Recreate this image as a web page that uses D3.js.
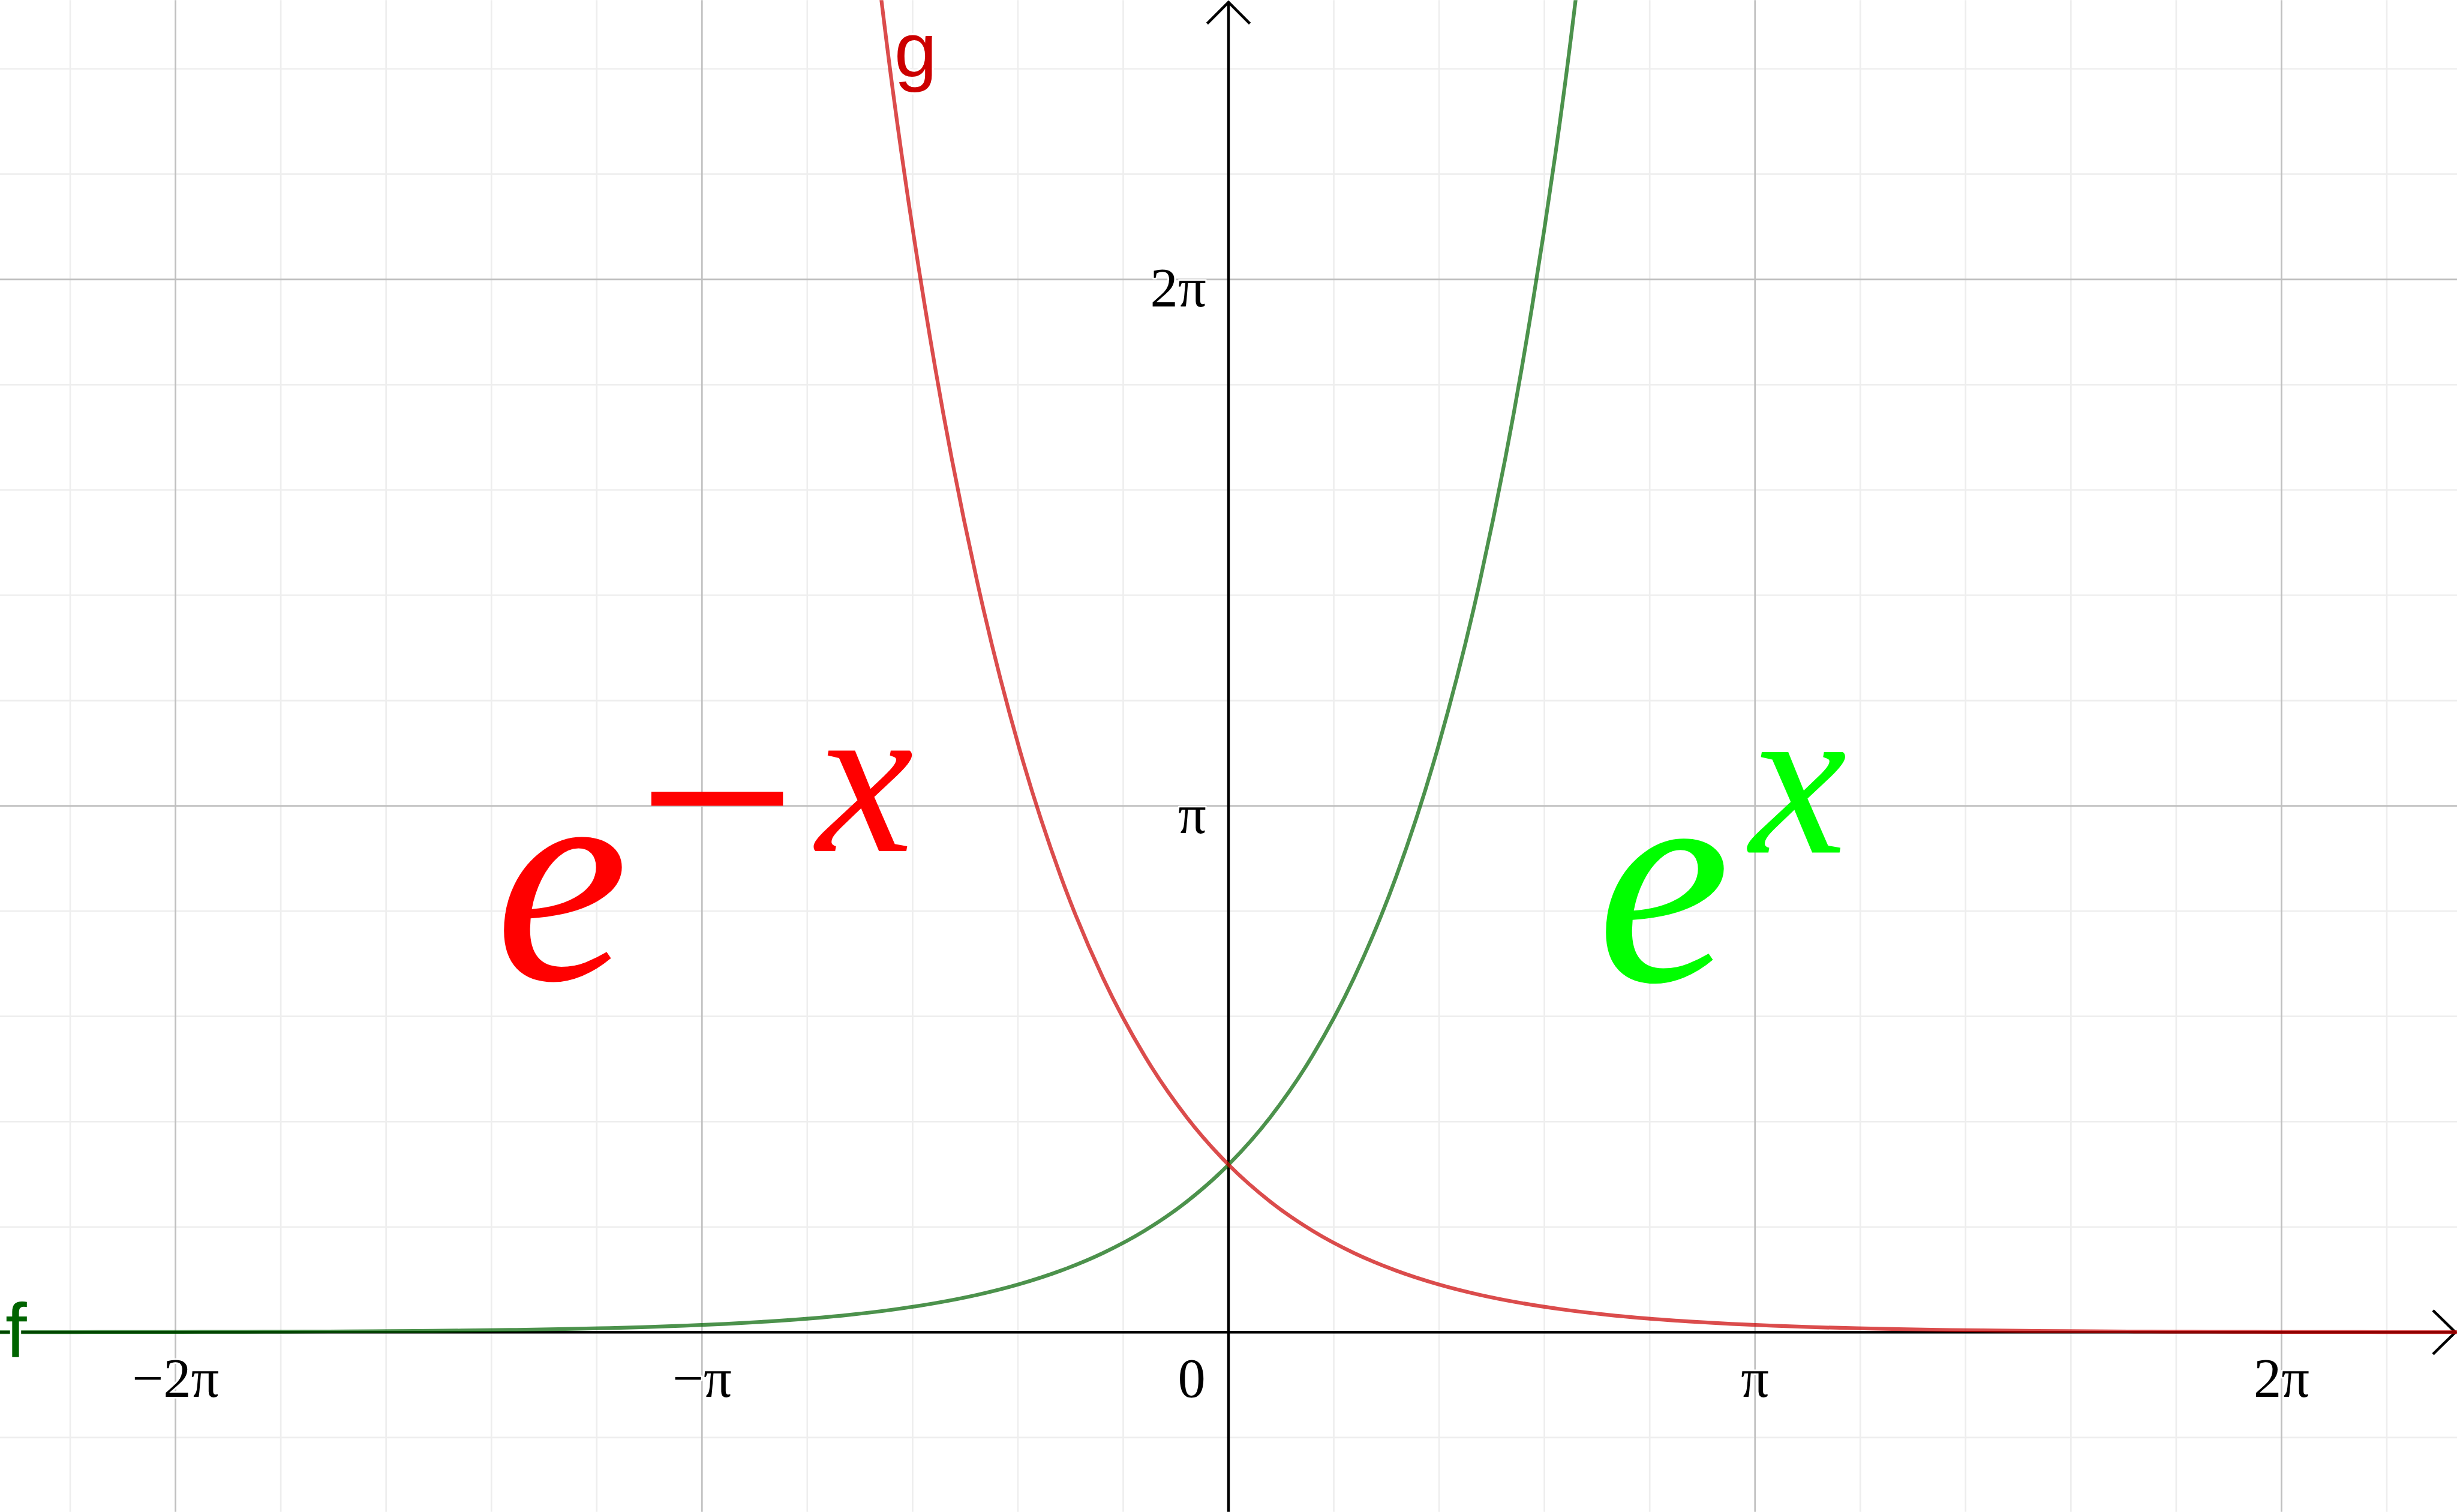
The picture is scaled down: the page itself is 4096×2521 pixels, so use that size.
<!DOCTYPE html>
<html>
<head>
<meta charset="utf-8">
<script src="https://cdn.jsdelivr.net/npm/d3@7"></script>
<style>
  html, body { margin: 0; padding: 0; background: #ffffff; overflow: hidden; }
  svg { display: block; }
</style>
</head>
<body>
<svg id="chart"></svg>
<script>
// ---------- data ----------
const fX = [-7.5,-7.25,-7,-6.75,-6.5,-6.25,-6,-5.75,-5.5,-5.25,-5,-4.75,-4.5,-4.25,-4,-3.75,-3.5,-3.25,-3,-2.75,-2.5,-2.25,-2,-1.75,-1.5,-1.25,-1,-0.75,-0.5,-0.25,0,0.25,0.5,0.75,1,1.25,1.5,1.75,2,2.25];
const fY = [0.00055,0.00071,0.00091,0.00117,0.0015,0.00193,0.00248,0.00318,0.00409,0.00525,0.00674,0.00865,0.0111,0.01426,0.01832,0.02352,0.0302,0.03877,0.04979,0.06393,0.08208,0.1054,0.1353,0.1738,0.2231,0.2865,0.3679,0.4724,0.6065,0.7788,1,1.284,1.6487,2.117,2.7183,3.4903,4.4817,5.7546,7.3891,9.4877];
const gX = [-2.25,-2,-1.75,-1.5,-1.25,-1,-0.75,-0.5,-0.25,0,0.25,0.5,0.75,1,1.25,1.5,1.75,2,2.25,2.5,2.75,3,3.25,3.5,3.75,4,4.25,4.5,4.75,5,5.25,5.5,5.75,6,6.25,6.5,6.75,7,7.25,7.5];
const gY = [9.4877,7.3891,5.7546,4.4817,3.4903,2.7183,2.117,1.6487,1.284,1,0.7788,0.6065,0.4724,0.3679,0.2865,0.2231,0.1738,0.1353,0.1054,0.08208,0.06393,0.04979,0.03877,0.0302,0.02352,0.01832,0.01426,0.0111,0.00865,0.00674,0.00525,0.00409,0.00318,0.00248,0.00193,0.0015,0.00117,0.00091,0.00071,0.00055];

const xTickValues = [-2 * Math.PI, -Math.PI, Math.PI, 2 * Math.PI];
const xTickLabels = ["\u22122\u03c0", "\u2212\u03c0", "\u03c0", "2\u03c0"];
const yTickValues = [Math.PI, 2 * Math.PI];
const yTickLabels = ["\u03c0", "2\u03c0"];
const originLabel = "0";
const seriesNames = ["f", "g"];
const bigLabelRed = ["e", "\u2212", "x"];
const bigLabelGreen = ["e", "x"];

// ---------- layout (reference units, scaled by viewBox) ----------
const W = 4602, H = 2832;
const svg = d3.select("#chart")
  .attr("width", 4096).attr("height", 2521)
  .attr("viewBox", `0 0 ${W} ${H}`);

const unit = 313.9, ox = 2301, oy = 2495.5;
const x = d3.scaleLinear().domain([-ox / unit, (W - ox) / unit]).range([0, W]);
const y = d3.scaleLinear().domain([-(H - oy) / unit, oy / unit]).range([H, 0]);

svg.append("rect").attr("width", W).attr("height", H).attr("fill", "#fff");
svg.append("defs").append("clipPath").attr("id", "clip")
  .append("rect").attr("width", W).attr("height", H);

// ---------- grid ----------
const step = Math.PI / 5;
const gx = d3.range(Math.ceil(x.domain()[0] / step), Math.floor(x.domain()[1] / step) + 1);
const gy = d3.range(Math.ceil(y.domain()[0] / step), Math.floor(y.domain()[1] / step) + 1);
const grid = svg.append("g");
grid.selectAll("line.minx").data(gx.filter(k => k % 5 !== 0)).join("line")
  .attr("x1", k => x(k * step)).attr("x2", k => x(k * step))
  .attr("y1", 0).attr("y2", H).attr("stroke", "#eeeeee").attr("stroke-width", 3);
grid.selectAll("line.miny").data(gy.filter(k => k % 5 !== 0)).join("line")
  .attr("y1", k => y(k * step)).attr("y2", k => y(k * step))
  .attr("x1", 0).attr("x2", W).attr("stroke", "#eeeeee").attr("stroke-width", 3);
grid.selectAll("line.majx").data(gx.filter(k => k % 5 === 0 && k !== 0)).join("line")
  .attr("x1", k => x(k * step)).attr("x2", k => x(k * step))
  .attr("y1", 0).attr("y2", H).attr("stroke", "#c0c0c0").attr("stroke-width", 3);
grid.selectAll("line.majy").data(gy.filter(k => k % 5 === 0 && k !== 0)).join("line")
  .attr("y1", k => y(k * step)).attr("y2", k => y(k * step))
  .attr("x1", 0).attr("x2", W).attr("stroke", "#c0c0c0").attr("stroke-width", 3);

// ---------- axes ----------
const ax = svg.append("g").attr("stroke", "#000").attr("stroke-width", 5).attr("fill", "none");
const tipX = W - 3, tipY = 4;
ax.append("line").attr("x1", 0).attr("x2", tipX).attr("y1", y(0)).attr("y2", y(0));
ax.append("line").attr("x1", x(0)).attr("x2", x(0)).attr("y1", H).attr("y2", tipY);
ax.append("path").attr("d", `M${tipX - 42},${y(0) - 41}L${tipX},${y(0)}L${tipX - 42},${y(0) + 41}`);
ax.append("path").attr("d", `M${x(0) - 40},${tipY + 40}L${x(0)},${tipY}L${x(0) + 40},${tipY + 40}`);

// ---------- tick labels ----------
const labelStyle = sel => sel
  .attr("font-family", "'Liberation Serif', 'Times New Roman', serif")
  .attr("font-size", 104).attr("fill", "#000")
  .attr("stroke", "#fff").attr("stroke-width", 6).attr("paint-order", "stroke")
  .attr("stroke-linejoin", "round");
svg.append("g").selectAll("text").data(xTickValues).join("text")
  .call(labelStyle)
  .attr("x", d => x(d)).attr("y", y(0) + 121)
  .attr("text-anchor", "middle")
  .text((d, i) => xTickLabels[i]);
svg.append("g").selectAll("text").data(yTickValues).join("text")
  .call(labelStyle)
  .attr("x", x(0) - 42).attr("y", d => y(d) + 51)
  .attr("text-anchor", "end")
  .text((d, i) => yTickLabels[i]);
svg.append("text").call(labelStyle)
  .attr("x", x(0) - 43).attr("y", y(0) + 121)
  .attr("text-anchor", "end").text(originLabel);

// ---------- curves ----------
const line = d3.line().x(d => x(d[0])).y(d => y(d[1])).curve(d3.curveMonotoneX);
const curves = svg.append("g").attr("clip-path", "url(#clip)");
curves.append("path").datum(fX.map((v, i) => [v, fY[i]]))
  .attr("d", line).attr("fill", "none")
  .attr("stroke", "#006400").attr("stroke-opacity", 0.7).attr("stroke-width", 7);
curves.append("path").datum(gX.map((v, i) => [v, gY[i]]))
  .attr("d", line).attr("fill", "none")
  .attr("stroke", "#cc0000").attr("stroke-opacity", 0.7).attr("stroke-width", 7);

// ---------- series labels ----------
const nameStyle = sel => sel
  .attr("font-family", "'Liberation Sans', Arial, sans-serif")
  .attr("font-size", 144)
  .attr("stroke", "#fff").attr("stroke-width", 8).attr("paint-order", "stroke");
svg.append("text").call(nameStyle).attr("fill", "#006400")
  .attr("x", 10).attr("y", 2542).text(seriesNames[0]);
svg.append("text").call(nameStyle).attr("fill", "#cc0000")
  .attr("x", 1675).attr("y", 142).text(seriesNames[1]);

// ---------- big formula texts ----------
const big = svg.append("g")
  .attr("font-family", "'Liberation Serif', 'Times New Roman', serif");
const redT = big.append("g").attr("fill", "#ff0000");
redT.append("text").attr("x", 1052).attr("y", 1834).attr("font-size", 565)
  .attr("font-style", "italic").attr("text-anchor", "middle").text(bigLabelRed[0]);
redT.append("text").attr("x", 1343).attr("y", 1672).attr("font-size", 530)
  .attr("text-anchor", "middle").text(bigLabelRed[1]);
redT.append("text").attr("x", 1620).attr("y", 1594).attr("font-size", 410)
  .attr("font-style", "italic").attr("text-anchor", "middle").text(bigLabelRed[2]);
const greenT = big.append("g").attr("fill", "#00ff00");
greenT.append("text").attr("x", 3116).attr("y", 1837).attr("font-size", 565)
  .attr("font-style", "italic").attr("text-anchor", "middle").text(bigLabelGreen[0]);
greenT.append("text").attr("x", 3368).attr("y", 1597).attr("font-size", 410)
  .attr("font-style", "italic").attr("text-anchor", "middle").text(bigLabelGreen[1]);
</script>
</body>
</html>
